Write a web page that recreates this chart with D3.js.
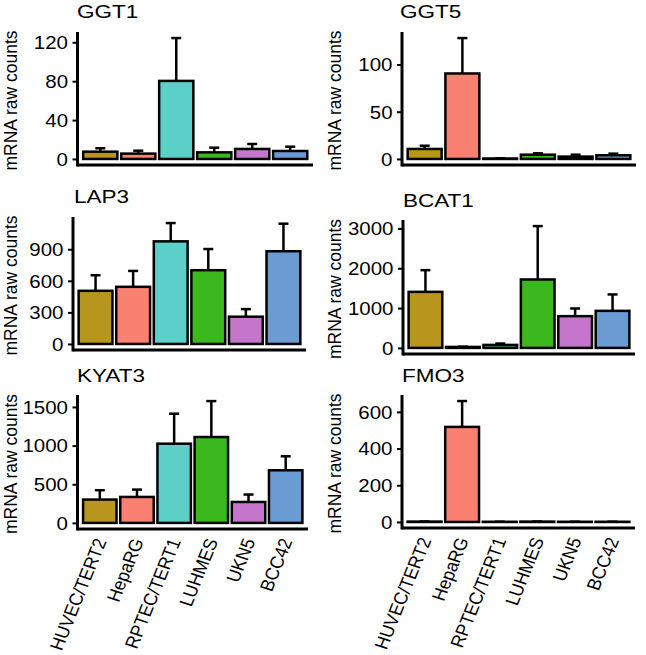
<!DOCTYPE html>
<html><head><meta charset="utf-8">
<script src="https://cdn.jsdelivr.net/npm/d3@7"></script>
<style>
html,body{margin:0;padding:0;background:#fff;}
text{font-family:"Liberation Sans",Arial,Helvetica,sans-serif;fill:#000;}
</style></head>
<body>
<svg id="chart" width="646" height="655"></svg>
<script>
const categories = ["HUVEC/TERT2","HepaRG","RPTEC/TERT1","LUHMES","UKN5","BCC42"];
const colors = ["#B8961E","#FA8072","#5CD0C8","#3AB81E","#C675CC","#6A9CD3"];
const genes = ["GGT1","GGT5","LAP3","BCAT1","KYAT3","FMO3"];

const meanGGT1 = [7.5, 5.5, 80.3, 6.8, 10.3, 8.2];
const sdGGT1   = [3.5, 3.0, 44.1, 4.8, 5.1, 4.4];
const meanGGT5 = [10.6, 90.5, 0.5, 4.5, 2.5, 3.9];
const sdGGT5   = [3.4, 37.5, 0.2, 1.5, 2.0, 1.7];
const meanLAP3 = [505, 543, 975, 701, 259, 881];
const sdLAP3   = [148, 151, 174, 201, 72, 262];
const meanBCAT1 = [1407, 25, 75, 1718, 797, 930];
const sdBCAT1   = [545, 5, 35, 1340, 193, 412];
const meanKYAT3 = [302, 336, 1025, 1111, 271, 681];
const sdKYAT3   = [121, 95, 388, 465, 96, 181];
const meanFMO3 = [2, 518, 1, 2, 1, 1];
const sdFMO3   = [0.5, 141, 0.3, 0.5, 0.3, 0.3];

const ticksGGT1 = [0,40,80,120];
const ticksGGT5 = [0,50,100];
const ticksLAP3 = [0,300,600,900];
const ticksBCAT1 = [0,1000,2000,3000];
const ticksKYAT3 = [0,500,1000,1500];
const ticksFMO3 = [0,200,400,600];

const yTitle = "mRNA raw counts";

// layout per panel (pixels)
const panels = [
  {gene:"GGT1", mean:meanGGT1, sd:sdGGT1, ticks:ticksGGT1, left:77.5, right:313, top:32, bottom:165, tx:77, ty:18, ytx:11, labels:false},
  {gene:"GGT5", mean:meanGGT5, sd:sdGGT5, ticks:ticksGGT5, left:402, right:636, top:32, bottom:165, tx:400, ty:18, ytx:335, labels:false},
  {gene:"LAP3", mean:meanLAP3, sd:sdLAP3, ticks:ticksLAP3, left:73, right:306, top:217, bottom:350, tx:74, ty:203, ytx:11, labels:false},
  {gene:"BCAT1", mean:meanBCAT1, sd:sdBCAT1, ticks:ticksBCAT1, left:403, right:635, top:220, bottom:354, tx:403, ty:207, ytx:335, labels:false},
  {gene:"KYAT3", mean:meanKYAT3, sd:sdKYAT3, ticks:ticksKYAT3, left:77.5, right:308, top:395, bottom:529, tx:77, ty:382, ytx:11, labels:true},
  {gene:"FMO3", mean:meanFMO3, sd:sdFMO3, ticks:ticksFMO3, left:402, right:635, top:395, bottom:528, tx:402, ty:382, ytx:335, labels:true}
];

const svg = d3.select("#chart");
const FS = 17.5;
const SX = 1.17;

panels.forEach(p => {
  const g = svg.append("g");
  const M = d3.max(p.mean.map((m,i)=>m+p.sd[i]));
  const y = d3.scaleLinear().domain([-0.05*M, 1.05*M]).range([p.bottom, p.top]);
  const x = d3.scaleBand().domain(categories).range([p.left, p.right]).paddingInner(0.1).paddingOuter(0.15);

  // error bars (upper only)
  const eb = g.append("g");
  categories.forEach((c,i) => {
    const cx = x(c) + x.bandwidth()/2;
    eb.append("line").attr("x1",cx).attr("x2",cx)
      .attr("y1",y(p.mean[i])).attr("y2",y(p.mean[i]+p.sd[i]))
      .attr("stroke","#000").attr("stroke-width",2.5);
    eb.append("line").attr("x1",cx-5).attr("x2",cx+5)
      .attr("y1",y(p.mean[i]+p.sd[i])).attr("y2",y(p.mean[i]+p.sd[i]))
      .attr("stroke","#000").attr("stroke-width",2.5);
  });

  // bars
  g.append("g").selectAll("rect").data(categories).join("rect")
    .attr("x", c => x(c))
    .attr("width", x.bandwidth())
    .attr("y", (c,i) => y(p.mean[i]))
    .attr("height", (c,i) => y(0) - y(p.mean[i]))
    .attr("fill", (c,i) => colors[i])
    .attr("stroke","#000").attr("stroke-width",2.5);

  // y axis
  const ya = g.append("g").attr("transform",`translate(${p.left},0)`)
    .call(d3.axisLeft(y).tickValues(p.ticks).tickFormat(d3.format("d")).tickSize(5).tickPadding(4).tickSizeOuter(0));
  ya.select(".domain").remove();
  ya.selectAll(".tick line").attr("stroke","#000").attr("stroke-width",2);
  ya.selectAll(".tick text").attr("font-size",FS).attr("dy","0.36em")
    .attr("x", -9.5/SX).attr("transform",`scale(${SX},1)`)
    .style("font-family",'"Liberation Sans",Arial,sans-serif');

  // axis lines
  g.append("line").attr("x1",p.left).attr("x2",p.left).attr("y1",p.top).attr("y2",p.bottom+1.5)
    .attr("stroke","#000").attr("stroke-width",3);
  g.append("line").attr("x1",p.left).attr("x2",p.right).attr("y1",p.bottom).attr("y2",p.bottom)
    .attr("stroke","#000").attr("stroke-width",3);

  // title
  g.append("text").attr("transform",`translate(${p.tx},${p.ty}) scale(1.25,1)`)
    .attr("font-size",18).text(p.gene);

  // y title
  const cy = (p.top + p.bottom)/2 + 2;
  g.append("text").attr("transform",`translate(${p.ytx+6},${cy}) rotate(-90)`)
    .attr("text-anchor","middle").attr("font-size",FS).text(yTitle);

  // x labels
  if (p.labels) {
    categories.forEach(c => {
      const cx = x(c) + x.bandwidth()/2 + 7;
      g.append("text").attr("transform",`translate(${cx},${p.bottom+12}) scale(1.12,1) rotate(-70)`)
        .attr("text-anchor","end").attr("font-size",17).text(c);
    });
  }
});
</script>
</body></html>
